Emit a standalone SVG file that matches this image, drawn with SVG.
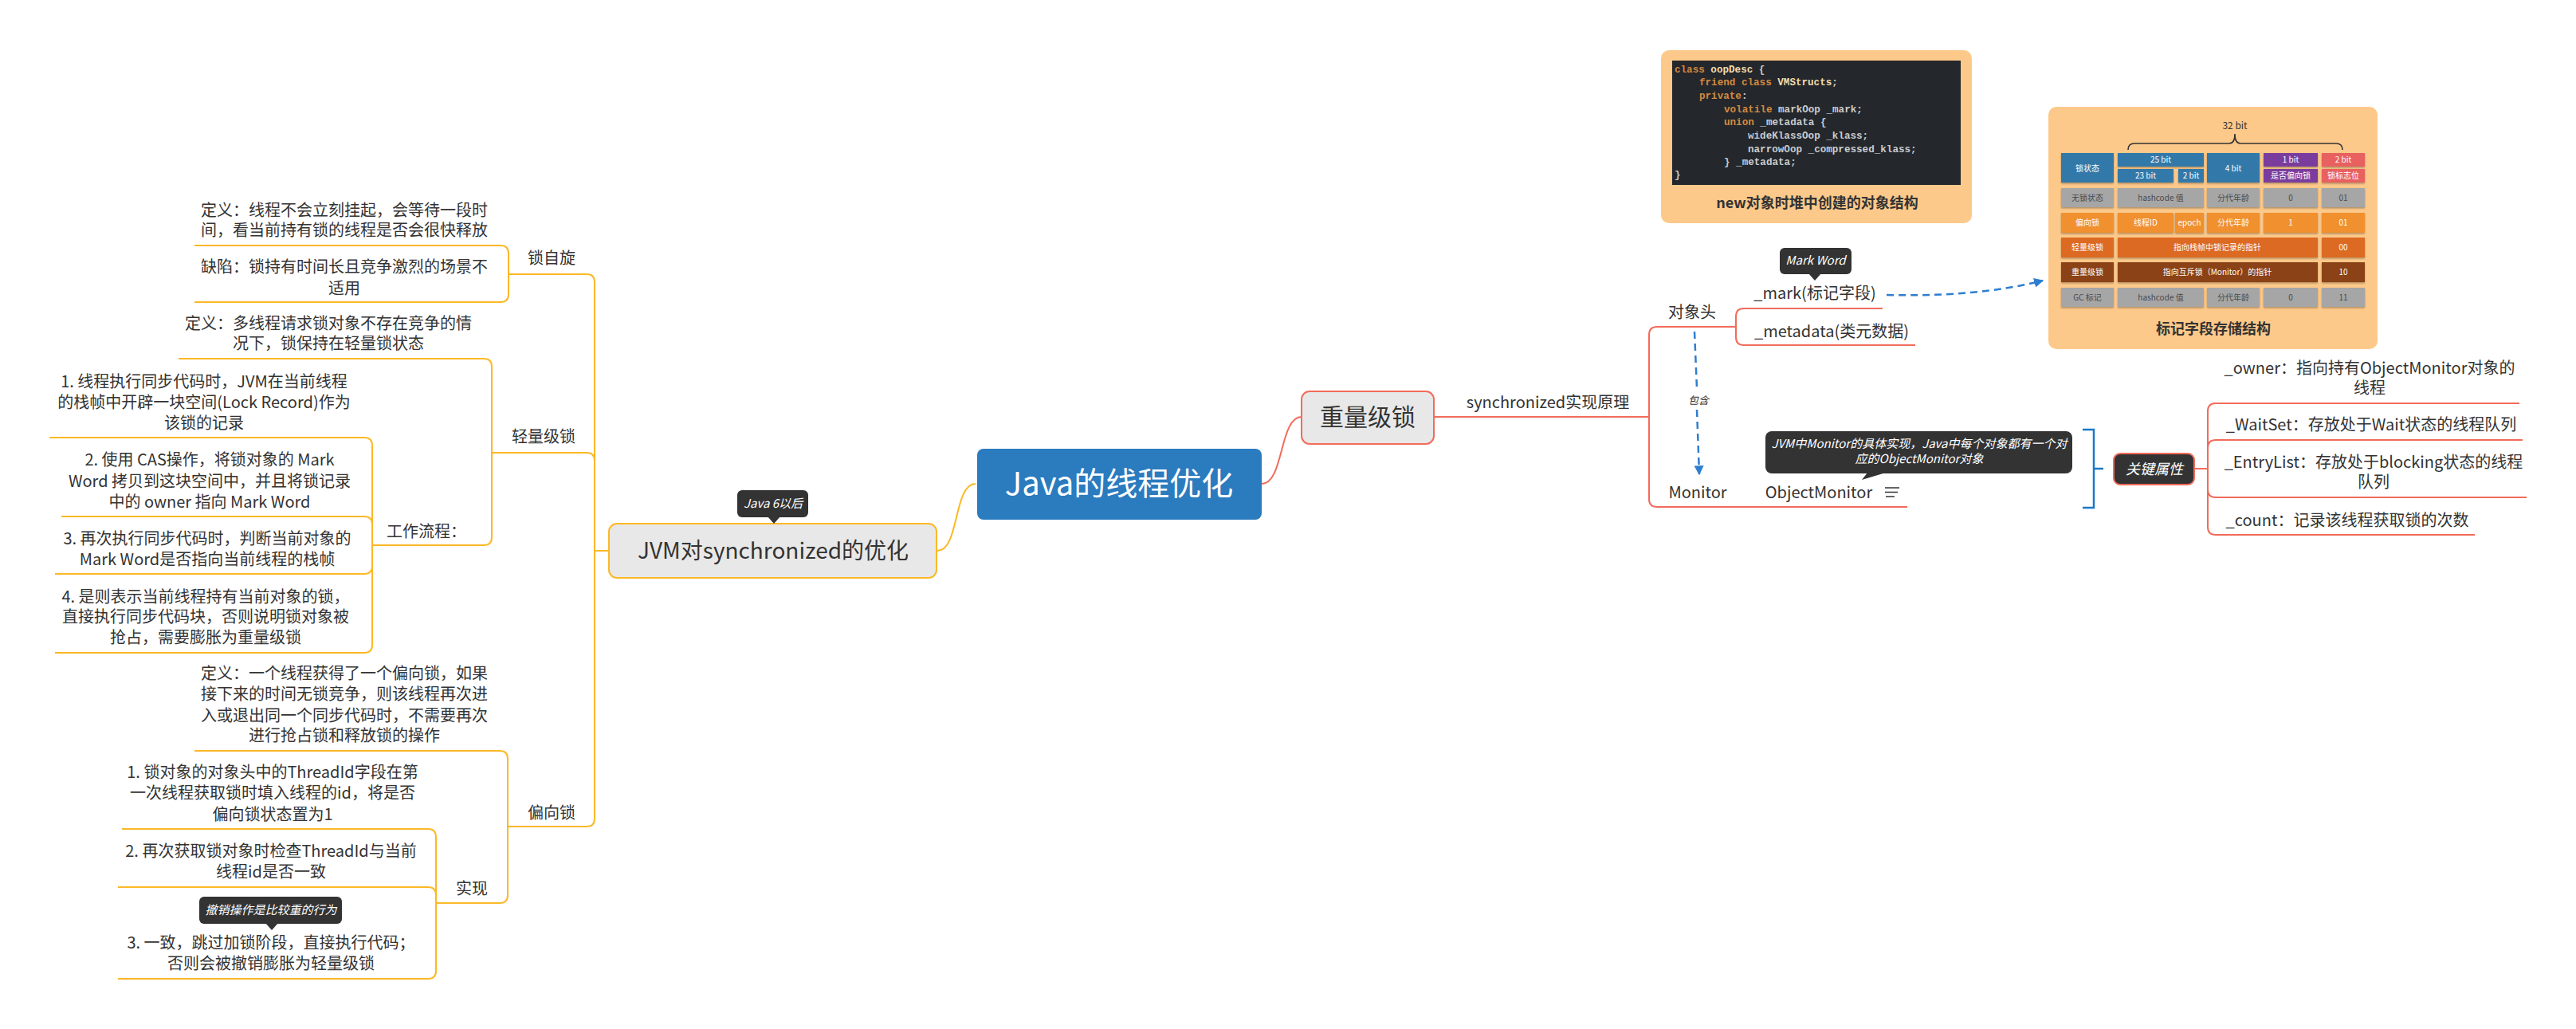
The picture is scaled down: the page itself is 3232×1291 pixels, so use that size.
<svg xmlns="http://www.w3.org/2000/svg" width="3232" height="1291" viewBox="0 0 3232 1291">
<style>
.t{font-family:"Noto Sans CJK SC","Noto Sans",sans-serif;font-size:20px;fill:#333;text-anchor:middle}
.or{fill:none;stroke:#fcb827;stroke-width:2}
.rd{fill:none;stroke:#f26b5b;stroke-width:2}
.co{fill:#333}
.ct{font-family:"Noto Sans CJK SC","Noto Sans",sans-serif;font-size:15px;font-style:italic;fill:#fff;text-anchor:middle}
.code{font-family:"Liberation Mono",monospace;font-size:12.6px;font-weight:bold;fill:#c9ccd1}
.kw{fill:#d38a41}
.nm{fill:#f1dcae}
.cell{font-family:"Noto Sans CJK SC",sans-serif;font-size:10px;fill:#fff;text-anchor:middle}
.cg{fill:#4a4a4a}
.cap{font-family:"Noto Sans CJK SC",sans-serif;font-size:18px;font-weight:bold;fill:#333;text-anchor:middle}
.dash{fill:none;stroke:#2e7ed0;stroke-width:2.5;stroke-dasharray:9 6}
</style>
<defs>
<marker id="arr" viewBox="0 0 10 10" refX="9" refY="5" markerWidth="12" markerHeight="12" markerUnits="userSpaceOnUse" orient="auto">
<path d="M0,0 L10,5 L0,10 z" fill="#2e7ed0"/>
</marker>
<filter id="sh" x="-10%" y="-10%" width="120%" height="140%">
<feDropShadow dx="0" dy="1.5" stdDeviation="0.8" flood-color="#000" flood-opacity="0.3"/>
</filter>
</defs>
<rect width="3232" height="1291" fill="#fff"/>

<g id="connectors">
<path class="or" stroke-width="3" d="M1224,607 C1196,607 1204,691 1176,691"/>
<path class="or" d="M764,691 H746"/>
<path class="or" d="M746,691 V354 Q746,344 736,344 H638"/>
<path class="or" d="M746,691 V578 Q746,568 736,568 H617"/>
<path class="or" d="M746,691 V1027 Q746,1037 736,1037 H637"/>
<path class="or" d="M638,344 V318 Q638,308 628,308 H244"/>
<path class="or" d="M638,344 V369 Q638,379 628,379 H244"/>
<path class="or" d="M617,568 V460 Q617,450 607,450 H224"/>
<path class="or" d="M617,568 V674 Q617,684 607,684 H468"/>
<path class="or" d="M467,684 V559 Q467,549 457,549 H62"/>
<path class="or" d="M467,684 V658 Q467,648 457,648 H77"/>
<path class="or" d="M467,684 V710 Q467,720 457,720 H69"/>
<path class="or" d="M467,684 V809 Q467,819 457,819 H69"/>
<path class="or" d="M637,1037 V952 Q637,942 627,942 H244"/>
<path class="or" d="M637,1037 V1123 Q637,1133 627,1133 H547"/>
<path class="or" d="M547,1133 V1050 Q547,1040 537,1040 H153"/>
<path class="or" d="M547,1133 V1123 Q547,1113 537,1113 H148"/>
<path class="or" d="M547,1133 V1218 Q547,1228 537,1228 H148"/>

<path class="rd" stroke-width="3" d="M1583,607 C1611,607 1605,523 1633,523"/>
<path class="rd" d="M1799,523 H2069"/>
<path class="rd" d="M2069,523 V420 Q2069,410 2079,410 H2178"/>
<path class="rd" d="M2069,523 V626 Q2069,636 2079,636 H2393"/>
<path class="rd" d="M2178,410 V397 Q2178,387 2188,387 H2362"/>
<path class="rd" d="M2178,410 V423 Q2178,433 2188,433 H2403"/>
<path class="rd" d="M2753,588 H2770"/>
<path class="rd" d="M2770,588 V516 Q2770,506 2780,506 H3161"/>
<path class="rd" d="M2770,588 V562 Q2770,552 2780,552 H3165"/>
<path class="rd" d="M2770,588 V614 Q2770,624 2780,624 H3170"/>
<path class="rd" d="M2770,588 V661 Q2770,671 2780,671 H3105"/>

<path class="dash" d="M2126,416 L2129,487"/>
<path class="dash" d="M2129,514 L2132,595" marker-end="url(#arr)"/>
<text class="t" x="2131" y="507" style="font-size:13px;font-style:italic">包含</text>
<path class="dash" stroke-width="3" stroke-dasharray="12 7" d="M2367,370 C2440,372 2510,366 2563,352" marker-end="url(#arr)"/>
<path d="M2613,539 H2627 V637 H2613 M2627,588 H2639" fill="none" stroke="#1b78c7" stroke-width="2.5"/>
</g>

<g id="central">
<rect x="1226" y="563" width="357" height="89" rx="8" fill="#2b7bbf"/>
<text class="t" x="1404" y="621" style="font-size:40px;fill:#fff">Java的线程优化</text>
</g>

<g id="jvm">
<rect x="764" y="657" width="411" height="68" rx="10" fill="#e8e8e8" stroke="#fcb827" stroke-width="2"/>
<text class="t" x="970" y="701" style="font-size:28px">JVM对synchronized的优化</text>
</g>
<g id="note-java6">
<rect x="925" y="615" width="89" height="34" rx="6" class="co"/>
<path d="M963,648 L979,648 L971,657 z" class="co"/>
<text class="ct" x="970" y="637">Java 6以后</text>
</g>

<g id="spin">
<text class="t" x="692" y="331">锁自旋</text>
</g>
<g id="spin-def">
<text class="t" x="432" y="271">定义：线程不会立刻挂起，会等待一段时</text>
<text class="t" x="432" y="296">间，看当前持有锁的线程是否会很快释放</text>
</g>
<g id="spin-flaw">
<text class="t" x="432" y="342">缺陷：锁持有时间长且竞争激烈的场景不</text>
<text class="t" x="432" y="369">适用</text>
</g>

<g id="light">
<text class="t" x="682" y="555">轻量级锁</text>
</g>
<g id="light-def">
<text class="t" x="412" y="413">定义：多线程请求锁对象不存在竞争的情</text>
<text class="t" x="412" y="438">况下，锁保持在轻量锁状态</text>
</g>
<g id="light-flow">
<text class="t" x="535" y="674">工作流程：</text>
</g>
<g id="light-1">
<text class="t" x="256" y="486">1. 线程执行同步代码时，JVM在当前线程</text>
<text class="t" x="256" y="512">的栈帧中开辟一块空间(Lock Record)作为</text>
<text class="t" x="256" y="538">该锁的记录</text>
</g>
<g id="light-2">
<text class="t" x="263" y="584">2. 使用 CAS操作，将锁对象的 Mark</text>
<text class="t" x="263" y="611">Word 拷贝到这块空间中，并且将锁记录</text>
<text class="t" x="263" y="637">中的 owner 指向 Mark Word</text>
</g>
<g id="light-3">
<text class="t" x="260" y="683">3. 再次执行同步代码时，判断当前对象的</text>
<text class="t" x="260" y="709">Mark Word是否指向当前线程的栈帧</text>
</g>
<g id="light-4">
<text class="t" x="258" y="756">4. 是则表示当前线程持有当前对象的锁，</text>
<text class="t" x="258" y="781">直接执行同步代码块，否则说明锁对象被</text>
<text class="t" x="258" y="807">抢占，需要膨胀为重量级锁</text>
</g>

<g id="biased">
<text class="t" x="692" y="1027">偏向锁</text>
</g>
<g id="biased-def">
<text class="t" x="432" y="852">定义：一个线程获得了一个偏向锁，如果</text>
<text class="t" x="432" y="878">接下来的时间无锁竞争，则该线程再次进</text>
<text class="t" x="432" y="905">入或退出同一个同步代码时，不需要再次</text>
<text class="t" x="432" y="930">进行抢占锁和释放锁的操作</text>
</g>
<g id="biased-impl">
<text class="t" x="592" y="1122">实现</text>
</g>
<g id="biased-1">
<text class="t" x="342" y="976">1. 锁对象的对象头中的ThreadId字段在第</text>
<text class="t" x="342" y="1002">一次线程获取锁时填入线程的id，将是否</text>
<text class="t" x="342" y="1029">偏向锁状态置为1</text>
</g>
<g id="biased-2">
<text class="t" x="340" y="1075">2. 再次获取锁对象时检查ThreadId与当前</text>
<text class="t" x="340" y="1101">线程id是否一致</text>
</g>
<g id="biased-3">
<text class="t" x="340" y="1190">3. 一致，跳过加锁阶段，直接执行代码；</text>
<text class="t" x="340" y="1216">否则会被撤销膨胀为轻量级锁</text>
</g>
<g id="note-revoke">
<rect x="250" y="1125" width="179" height="34" rx="6" class="co"/>
<path d="M333,1158 L349,1158 L341,1167 z" class="co"/>
<text class="ct" x="340" y="1147">撤销操作是比较重的行为</text>
</g>

<g id="heavy">
<rect x="1633" y="491" width="166" height="66" rx="10" fill="#e8e8e8" stroke="#f26b5b" stroke-width="2"/>
<text class="t" x="1716" y="534" style="font-size:30px">重量级锁</text>
</g>
<g id="sync-principle">
<text class="t" x="1942" y="512">synchronized实现原理</text>
</g>
<g id="header">
<text class="t" x="2123" y="399">对象头</text>
</g>
<g id="mark">
<text class="t" x="2277" y="375">_mark(标记字段)</text>
</g>
<g id="note-markword">
<rect x="2233" y="311" width="90" height="33" rx="6" class="co"/>
<path d="M2269,343 L2285,343 L2277,352 z" class="co"/>
<text class="ct" x="2278" y="332">Mark Word</text>
</g>
<g id="metadata">
<text class="t" x="2298" y="423">_metadata(类元数据)</text>
</g>
<g id="monitor">
<text class="t" x="2130" y="625">Monitor</text>
</g>
<g id="objectmonitor">
<text class="t" x="2282" y="625">ObjectMonitor</text>
<path d="M2365,612 H2383 M2365,617.5 H2381 M2366,623 H2377" stroke="#333" stroke-width="1.6" fill="none"/>
</g>
<g id="note-objectmonitor">
<rect x="2215" y="541" width="385" height="53" rx="8" class="co"/>
<path d="M2343,593 L2366,593 L2336,602 z" class="co"/>
<text class="ct" x="2408" y="562">JVM中Monitor的具体实现，Java中每个对象都有一个对</text>
<text class="ct" x="2408" y="581">应的ObjectMonitor对象</text>
</g>
<g id="key-attrs">
<rect x="2652" y="569" width="101" height="39" rx="8" fill="#333" stroke="#f26b5b" stroke-width="2"/>
<text class="ct" x="2703" y="595" style="font-size:18px">关键属性</text>
</g>
<g id="owner">
<text class="t" x="2973" y="469">_owner：指向持有ObjectMonitor对象的</text>
<text class="t" x="2973" y="494">线程</text>
</g>
<g id="waitset">
<text class="t" x="2975" y="540">_WaitSet：存放处于Wait状态的线程队列</text>
</g>
<g id="entrylist">
<text class="t" x="2978" y="587">_EntryList：存放处于blocking状态的线程</text>
<text class="t" x="2978" y="612">队列</text>
</g>
<g id="count">
<text class="t" x="2945" y="660">_count：记录该线程获取锁的次数</text>
</g>

<g id="code-figure">
<rect x="2084" y="63" width="390" height="217" rx="10" fill="#fdc98a"/>
<rect x="2098" y="76" width="362" height="156" fill="#24272b"/>
<text class="code" x="2101" y="91"><tspan class="kw">class</tspan> <tspan class="nm">oopDesc</tspan> {</text>
<text class="code" x="2132" y="107"><tspan class="kw">friend class</tspan> <tspan class="nm">VMStructs</tspan>;</text>
<text class="code" x="2132" y="124"><tspan class="kw">private</tspan>:</text>
<text class="code" x="2163" y="141"><tspan class="kw">volatile</tspan> markOop _mark;</text>
<text class="code" x="2163" y="157"><tspan class="kw">union</tspan> _metadata {</text>
<text class="code" x="2193" y="174">wideKlassOop _klass;</text>
<text class="code" x="2193" y="191">narrowOop _compressed_klass;</text>
<text class="code" x="2163" y="207">} _metadata;</text>
<text class="code" x="2101" y="223">}</text>
<text class="cap" x="2280" y="261">new对象时堆中创建的对象结构</text>
</g>

<g id="markword-figure">
<rect x="2570" y="134" width="413" height="304" rx="10" fill="#fdc98a"/>
<text class="t" x="2804" y="162" style="font-size:12px">32 bit</text>
<path d="M2670,188 Q2670,180 2678,180 H2797 Q2804,180 2804,168 Q2804,180 2811,180 H2931 Q2939,180 2939,188" fill="none" stroke="#333" stroke-width="1.6"/>
<g filter="url(#sh)">
<rect x="2586" y="192" width="66" height="37" fill="#3279a9"/>
<rect x="2657" y="192" width="108" height="17" fill="#3279a9"/>
<rect x="2657" y="212" width="70" height="17" fill="#3279a9"/>
<rect x="2733" y="212" width="32" height="17" fill="#3279a9"/>
<rect x="2769" y="192" width="66" height="37" fill="#3279a9"/>
<rect x="2840" y="192" width="68" height="17" fill="#7a3e9d"/>
<rect x="2840" y="212" width="68" height="17" fill="#7a3e9d"/>
<rect x="2913" y="192" width="54" height="17" fill="#e8605f"/>
<rect x="2913" y="212" width="54" height="17" fill="#e8605f"/>

<rect x="2586" y="236" width="66" height="24" fill="#a6a6a6"/>
<rect x="2657" y="236" width="108" height="24" fill="#a6a6a6"/>
<rect x="2769" y="236" width="66" height="24" fill="#a6a6a6"/>
<rect x="2840" y="236" width="68" height="24" fill="#a6a6a6"/>
<rect x="2913" y="236" width="54" height="24" fill="#a6a6a6"/>

<rect x="2586" y="267" width="66" height="25" fill="#f0902f"/>
<rect x="2657" y="267" width="70" height="25" fill="#f0902f"/>
<rect x="2729" y="267" width="36" height="25" fill="#f0902f"/>
<rect x="2769" y="267" width="66" height="25" fill="#f0902f"/>
<rect x="2840" y="267" width="68" height="25" fill="#f0902f"/>
<rect x="2913" y="267" width="54" height="25" fill="#f0902f"/>

<rect x="2586" y="298" width="66" height="25" fill="#dd6a24"/>
<rect x="2657" y="298" width="251" height="25" fill="#dd6a24"/>
<rect x="2913" y="298" width="54" height="25" fill="#dd6a24"/>

<rect x="2586" y="329" width="66" height="25" fill="#8b4213"/>
<rect x="2657" y="329" width="251" height="25" fill="#8b4213"/>
<rect x="2913" y="329" width="54" height="25" fill="#8b4213"/>

<rect x="2586" y="361" width="66" height="24" fill="#a6a6a6"/>
<rect x="2657" y="361" width="108" height="24" fill="#a6a6a6"/>
<rect x="2769" y="361" width="66" height="24" fill="#a6a6a6"/>
<rect x="2840" y="361" width="68" height="24" fill="#a6a6a6"/>
<rect x="2913" y="361" width="54" height="24" fill="#a6a6a6"/>
</g>
<text class="cell" x="2619" y="214.5">锁状态</text>
<text class="cell" x="2711" y="204">25 bit</text>
<text class="cell" x="2692" y="224">23 bit</text>
<text class="cell" x="2749" y="224">2 bit</text>
<text class="cell" x="2802" y="214.5">4 bit</text>
<text class="cell" x="2874" y="204">1 bit</text>
<text class="cell" x="2874" y="224">是否偏向锁</text>
<text class="cell" x="2940" y="204">2 bit</text>
<text class="cell" x="2940" y="224">锁标志位</text>

<text class="cell cg" x="2619" y="251.5">无锁状态</text>
<text class="cell cg" x="2711" y="251.5">hashcode 值</text>
<text class="cell cg" x="2802" y="251.5">分代年龄</text>
<text class="cell cg" x="2874" y="251.5">0</text>
<text class="cell cg" x="2940" y="251.5">01</text>

<text class="cell" x="2619" y="283">偏向锁</text>
<text class="cell" x="2692" y="283">线程ID</text>
<text class="cell" x="2747" y="283">epoch</text>
<text class="cell" x="2802" y="283">分代年龄</text>
<text class="cell" x="2874" y="283">1</text>
<text class="cell" x="2940" y="283">01</text>

<text class="cell" x="2619" y="314">轻量级锁</text>
<text class="cell" x="2782" y="314">指向栈帧中锁记录的指针</text>
<text class="cell" x="2940" y="314">00</text>

<text class="cell" x="2619" y="345">重量级锁</text>
<text class="cell" x="2782" y="345">指向互斥锁（Monitor）的指针</text>
<text class="cell" x="2940" y="345">10</text>

<text class="cell cg" x="2619" y="376.5">GC 标记</text>
<text class="cell cg" x="2711" y="376.5">hashcode 值</text>
<text class="cell cg" x="2802" y="376.5">分代年龄</text>
<text class="cell cg" x="2874" y="376.5">0</text>
<text class="cell cg" x="2940" y="376.5">11</text>
<text class="cap" x="2777" y="419">标记字段存储结构</text>
</g>
</svg>
